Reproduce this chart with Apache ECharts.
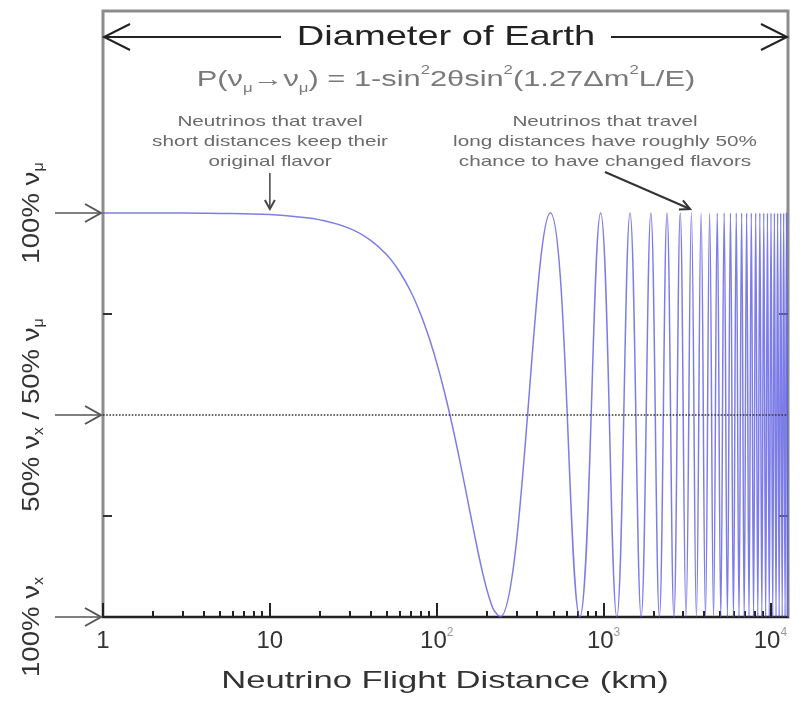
<!DOCTYPE html>
<html>
<head>
<meta charset="utf-8">
<title>Neutrino flavour vs flight distance</title>
<script src="https://cdn.jsdelivr.net/npm/echarts@6/dist/echarts.min.js"></script>
<style>
  html, body { margin: 0; padding: 0; background: #fff; }
  #chart { width: 801px; height: 709px; }
</style>
</head>
<body>
<div id="chart"></div>
<script>
// plateau and first fall of the curve (km / survival probability)
const fallKm = [1, 2, 3, 5, 7, 10, 15, 20, 30, 40, 50, 60, 70, 80, 90, 100, 110, 120, 130, 140, 150, 160, 170, 180, 190, 200, 210, 220]
const fallProb = [1, 1, 1, 0.999, 0.998, 0.996, 0.99, 0.983, 0.962, 0.933, 0.897, 0.854, 0.805, 0.75, 0.691, 0.629, 0.565, 0.5, 0.435, 0.371, 0.309, 0.25, 0.196, 0.146, 0.103, 0.067, 0.038, 0.017]

// where the oscillation touches 100% nu_mu (peaks) and 0% (troughs), km
const peakKm = [480, 960, 1440, 1920, 2400, 2880, 3360, 3840, 4320, 4800, 5280, 5760, 6240, 6720, 7200, 7680, 8160, 8640, 9120, 9600, 10080, 10560, 11040, 11520, 12000, 12480]
const troughKm = [240, 720, 1200, 1680, 2160, 2640, 3120, 3600, 4080, 4560, 5040, 5520, 6000, 6480, 6960, 7440, 7920, 8400, 8880, 9360, 9840, 10320, 10800, 11280, 11760, 12240, 12720]

const earthDiameterKm = 12742
const majorTickKm = [1, 10, 100, 1000, 10000]
const minorTickKm = [2, 3, 4, 5, 6, 7, 8, 9, 20, 30, 40, 50, 60, 70, 80, 90, 200, 300, 400, 500, 600, 700, 800, 900, 2000, 3000, 4000, 5000, 6000, 7000, 8000, 9000]
const yTickValues = [0.25, 0.75]
const yLabelValues = [1, 0.5, 0]
const yLabelTexts = ['100% ν{s|μ}', '50% ν{s|x} / 50% ν{s|μ}', '100% ν{s|x}']

const FONT = 'Liberation Sans, Arial, sans-serif'

// line data: the fall, then the extremes in distance order
const swing = peakKm.map(km => [km, 1]).concat(troughKm.map(km => [km, 0]))
swing.sort((a, b) => a[0] - b[0])
const curve = fallKm.map((km, i) => [km, fallProb[i]]).concat(swing)

const chart = echarts.init(document.getElementById('chart'), null, { renderer: 'canvas' })

const option = {
  backgroundColor: '#fff',
  animation: false,
  grid: {
    left: 103,
    right: 13,
    top: 11,
    bottom: 92,
    show: true,
    borderColor: '#8c8c8c',
    borderWidth: 3
  },
  xAxis: [
    {
      type: 'log',
      logBase: 10,
      min: 1,
      max: earthDiameterKm,
      axisLine: { lineStyle: { color: '#222', width: 2 } },
      axisTick: {
        customValues: majorTickKm,
        inside: true,
        length: 14,
        lineStyle: { color: '#222', width: 2 }
      },
      axisLabel: {
        customValues: majorTickKm,
        margin: 10,
        fontSize: 24,
        lineHeight: 28,
        fontFamily: FONT,
        color: '#333',
        formatter: v => {
          const p = Math.round(Math.log10(v))
          if (p === 0) return '1'
          if (p === 1) return '10'
          return '10{e|' + p + '}'
        },
        rich: {
          e: { fontSize: 12, lineHeight: 12, verticalAlign: 'top', color: '#999', fontFamily: FONT }
        }
      },
      splitLine: { show: false }
    },
    {
      // minor ticks 2..9 of each decade
      type: 'log',
      logBase: 10,
      min: 1,
      max: earthDiameterKm,
      position: 'bottom',
      axisLine: { show: false },
      axisTick: {
        customValues: minorTickKm,
        inside: true,
        length: 6,
        lineStyle: { color: '#222', width: 2 }
      },
      axisLabel: { show: false },
      splitLine: { show: false }
    }
  ],
  yAxis: [
    {
      type: 'value',
      min: 0,
      max: 1.5,
      position: 'left',
      axisLine: { show: false },
      axisTick: { customValues: yTickValues, inside: true, length: 9, lineStyle: { color: '#333', width: 2 } },
      axisLabel: { show: false },
      splitLine: { show: false }
    },
    {
      type: 'value',
      min: 0,
      max: 1.5,
      position: 'right',
      axisLine: { show: false },
      axisTick: { customValues: yTickValues, inside: true, length: 9, lineStyle: { color: '#555', width: 2 } },
      axisLabel: { show: false },
      splitLine: { show: false }
    }
  ],
  series: [
    {
      type: 'line',
      data: curve,
      showSymbol: false,
      smooth: 0.4,
      lineStyle: { color: '#5c5ce2', width: 1.5, opacity: 0.8 },
      markLine: {
        silent: true,
        symbol: ['none', 'none'],
        label: { show: false },
        lineStyle: { color: '#333', type: 'dotted', width: 1.6 },
        data: [{ yAxis: 0.5 }]
      }
    }
  ]
}

chart.setOption(option)

// annotations placed with the chart's own scales
const px = (x, y) => chart.convertToPixel({ xAxisIndex: 0, yAxisIndex: 0 }, [x, y])
const left = px(1, 0)[0]
const right = px(earthDiameterKm, 0)[0]
const topY = 37
const grey = '#555'

function chevron (tipX, tipY, dx, dy, len, half, color, width) {
  // open arrow head; (dx, dy) is the unit direction of the arrow
  const bx = tipX - dx * len
  const by = tipY - dy * len
  return {
    type: 'polyline',
    shape: { points: [[bx - dy * half, by + dx * half], [tipX, tipY], [bx + dy * half, by - dx * half]] },
    style: { stroke: color, lineWidth: 2, fill: null }
  }
}

function arrow (x1, y1, x2, y2, color, width, head, half) {
  const d = Math.hypot(x2 - x1, y2 - y1)
  return [
    { type: 'line', shape: { x1, y1, x2, y2 }, style: { stroke: color, lineWidth: width } },
    chevron(x2, y2, (x2 - x1) / d, (y2 - y1) / d, head, half, color, width)
  ]
}

const graphics = []

// Diameter of Earth double arrow
graphics.push(...arrow(281, topY, left + 1, topY, '#222', 2, 26, 13))
graphics.push(...arrow(611, topY, right - 1, topY, '#222', 2, 26, 13))
graphics.push({
  type: 'text', x: 446, y: topY, scaleX: 1.36,
  style: { text: 'Diameter of Earth', fontSize: 28, fontFamily: FONT, fill: '#222', align: 'center', verticalAlign: 'middle' }
})

// oscillation formula
graphics.push({
  type: 'text', x: 446, y: 80, scaleX: 1.4,
  style: {
    text: 'P(ν{b|μ}→ν{b|μ}) = 1-sin{t|2}2θsin{t|2}(1.27Δm{t|2}L/E)',
    fontSize: 22, lineHeight: 30, fontFamily: FONT, fill: '#7a7a7a', align: 'center', verticalAlign: 'middle',
    rich: {
      t: { fontSize: 12, lineHeight: 12, verticalAlign: 'top', fill: '#7a7a7a', fontFamily: FONT },
      b: { fontSize: 12, lineHeight: 12, verticalAlign: 'bottom', fill: '#7a7a7a', fontFamily: FONT }
    }
  }
})

// notes with their arrows
const noteStyle = { fontSize: 15, lineHeight: 20, fontFamily: FONT, fill: '#6a6a6a', align: 'center', verticalAlign: 'top' }
graphics.push({
  type: 'text', x: 270, y: 112, scaleX: 1.38,
  style: Object.assign({ text: 'Neutrinos that travel\nshort distances keep their\noriginal flavor' }, noteStyle)
})
graphics.push({
  type: 'text', x: 605, y: 112, scaleX: 1.38,
  style: Object.assign({ text: 'Neutrinos that travel\nlong distances have roughly 50%\nchance to have changed flavors' }, noteStyle)
})
const shortPt = px(10, 1)
graphics.push(...arrow(shortPt[0], 173, shortPt[0], shortPt[1] - 4, '#444', 1.5, 9, 5))
const longPt = px(3300, 1)
graphics.push(...arrow(605, 172, longPt[0], longPt[1] - 4, '#333', 2, 10, 5))

// y labels (rotated) and the arrows pointing at the axis
yLabelValues.forEach((v, i) => {
  const p = px(1, v)
  graphics.push(...arrow(55, p[1], left - 2, p[1], grey, 1.5, 16, 9))
  graphics.push({
    type: 'text', x: 32, y: p[1] + (v === 0 ? 10 : 0), rotation: Math.PI / 2, scaleX: 1.15,
    style: {
      text: yLabelTexts[i], fontSize: 24, lineHeight: 28, fontFamily: FONT, fill: '#333',
      align: 'center', verticalAlign: 'middle',
      rich: { s: { fontSize: 14, lineHeight: 14, verticalAlign: 'bottom', fill: '#333', fontFamily: FONT } }
    }
  })
})

// x axis title
graphics.push({
  type: 'text', x: 445, y: 681, scaleX: 1.44,
  style: { text: 'Neutrino Flight Distance (km)', fontSize: 24, fontFamily: FONT, fill: '#333', align: 'center', verticalAlign: 'middle' }
})

chart.setOption({ graphic: graphics })
</script>
</body>
</html>
